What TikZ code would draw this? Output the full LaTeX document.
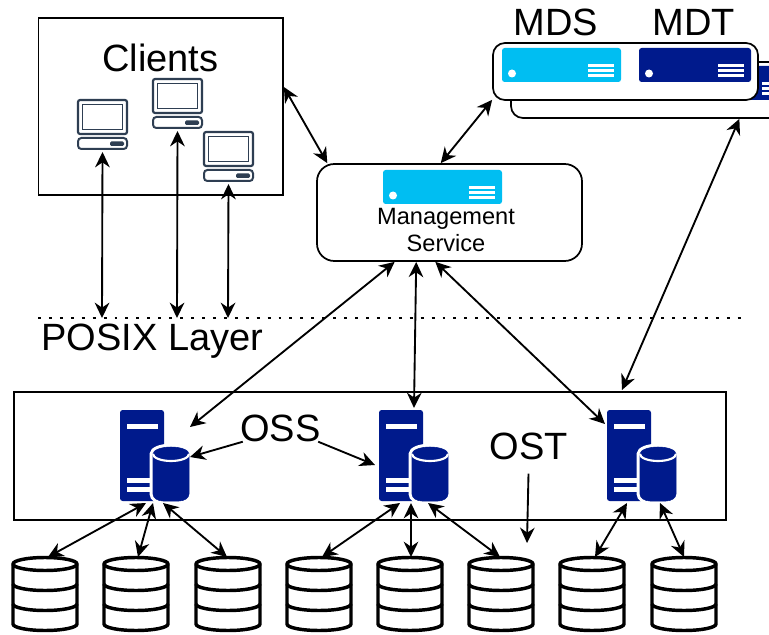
\documentclass[tikz,border=0pt]{standalone}
\usepackage{fontspec}
\setmainfont{Liberation Sans}
\usetikzlibrary{arrows.meta}
\def\px{0.75pt}
\definecolor{navy}{HTML}{001A8C}
\definecolor{sky}{HTML}{00BEF2}
\definecolor{slate}{HTML}{2E3E52}
% rack unit: x, y, width, colour
\newcommand{\blade}[4]{
  \fill[#4,rounded corners=2pt] (#1,#2) rectangle ++(#3,34);
  \fill[white] (#1+10,#2+25.5) circle (4);
  \foreach \ly in {17.5,22.5,27.5}
    \draw[white,line width=1.7pt] (#1+#3-33,#2+\ly) -- ++(26,0);
}
\tikzset{
  laptop/.pic={
    \draw[slate,line width=1.6pt,fill=white,rounded corners=1.5pt] (0,0) rectangle (49,34);
    \draw[slate,line width=1.4pt] (4.5,4.5) rectangle (44.5,29.5);
    \draw[slate,line width=1.5pt,fill=white,rounded corners=2.5pt] (0,38) rectangle (49,49);
    \fill[slate,rounded corners=1pt] (32,41.5) rectangle (46,46);
    \coordinate (-s) at (24.5,52);
  },
  tower/.pic={
    \fill[navy,rounded corners=2pt] (0,0) rectangle (44,91);
    \fill[white] (7,14) rectangle (38,19);
    \fill[white] (7,68) rectangle (32,73);
    \fill[white] (7,77) rectangle (32,82);
    \draw[navy,fill=navy,preaction={draw=white,line width=5pt}]
      (33,44) arc (180:360:18 and 7) -- (69,84) arc (0:90:10 and 7) -- (43,91) arc (90:180:10 and 7) -- cycle;
    \draw[white,line width=1.6pt] (33,44) arc (180:0:18 and 7);
    \coordinate (-b) at (0,93);
  },
  disk/.pic={
    \draw[line width=2.6pt,fill=white] (-32,7) arc (180:360:32 and 6.5) -- (32,67) arc (0:180:32 and 6.5) -- cycle;
    \draw[line width=2.6pt] (-32,7) arc (180:0:32 and 6.5);
    \draw[line width=2.6pt] (-32,27) arc (180:0:32 and 6.5);
    \draw[line width=2.6pt] (-32,47) arc (180:0:32 and 6.5);
    \coordinate (-t) at (0,0);
  }
}
\begin{document}
\begin{tikzpicture}[x=\px,y=-\px,>={Stealth[length=11.5pt,width=11pt]}]
  \tikzstyle{box}=[draw,line width=1.3pt,inner sep=0pt]
  \tikzstyle{rbox}=[box,fill=white,rounded corners=9pt]
  \tikzstyle{big}=[font=\fontsize{28.5pt}{30pt}\selectfont,inner sep=0pt]
  \tikzstyle{small}=[font=\fontsize{17.7pt}{20.25pt}\selectfont,align=center,inner sep=0pt]
  \tikzstyle{link}=[<->,line width=1.4pt]
  \tikzstyle{pointer}=[->,line width=1.4pt]
  \clip (0,0) rectangle (769,635);
  \fill[white] (0,0) rectangle (769,635);

  % clients
  \node [box,minimum width=244.5*\px,minimum height=177*\px] (clients) at (160.75,106.5) {};
  \node [big] (clientstext) at (160.5,58) {Clients};
  \pic (pc1) at (78,100) {laptop};
  \pic (pc2) at (153,79) {laptop};
  \pic (pc3) at (204,132) {laptop};

  % metadata
  \node [big] (mds) at (556,22) {MDS};
  \node [big] (mdt) at (693.5,22) {MDT};
  \node [rbox,minimum width=279*\px,minimum height=56*\px] (mdsback) at (650.5,90) {};
  \blade{735}{66}{60}{navy}
  \node [rbox,minimum width=265*\px,minimum height=57*\px] (mdsfront) at (625.5,71.5) {};
  \blade{502}{48}{119}{sky}
  \blade{639}{48}{112}{navy}

  % management
  \node [rbox,rounded corners=13pt,minimum width=265*\px,minimum height=97*\px] (mgmt) at (449.5,212.5) {};
  \blade{383}{170}{119}{sky}
  \node [small] (mgmttext) at (446,229.5) {Management\\Service};

  % posix
  \coordinate (dots1) at (38,318);
  \coordinate (dots2) at (745,318);
  \draw[line width=2.2pt,dash pattern=on 2.2pt off 6pt] (dots1) -- (dots2);
  \node [big] (posix) at (152.5,341) {POSIX Layer};
  \coordinate (p1) at (102,318);
  \coordinate (p2) at (177,318);
  \coordinate (p3) at (228,318);

  % object storage
  \node [box,minimum width=712*\px,minimum height=128*\px] (ossbox) at (370,456) {};
  \pic (s1) at (120,410) {tower};
  \pic (s2) at (379,410) {tower};
  \pic (s3) at (607,410) {tower};
  \node [big] (oss) at (280.5,428) {OSS};
  \node [big] (ost) at (528.5,446) {OST};
  \foreach \n/\dx in {1/45,2/136,3/228,4/319,5/410,6/501,7/592,8/684}
    \pic (d\n) at (\dx,557) {disk};

  \coordinate (t1) at (190,427);
  \coordinate (t2) at (414,408);
  \coordinate (t3) at (605,424);
  \coordinate (t4) at (622,390);
  \coordinate (o1) at (190,457);
  \coordinate (o2) at (375,465);
  \coordinate (o3) at (527,543);

  \draw[link] (pc1-s) -- (p1);
  \draw[link] (pc2-s) -- (p2);
  \draw[link] (pc3-s) -- (p3);
  \draw[link] (clients.9) -- (mgmt.158);
  \draw[link] (mdsfront.192) -- (mgmt.100);
  \draw[link] (mdsback.342) -- (t4);
  \draw[link] (mgmt.222) -- (t1);
  \draw[link] (mgmt.236) -- (t2);
  \draw[link] (mgmt.254) -- (t3);
  \draw[pointer] (oss.200) -- (o1);
  \draw[pointer] (oss.-20) -- (o2);
  \draw[pointer] (ost.south) ++(0,14) -- (o3);
  \foreach \a/\ax/\b/\bx in {s1/26/d1/3,s1/33/d2/2,s1/43/d3/-1,s2/21/d4/3,s2/32/d5/1,s2/49/d6/-1,s3/20/d7/3,s3/53/d8/0}
    \draw[link] ([xshift=\ax*\px]\a-b) -- ([xshift=\bx*\px]\b-t);
\end{tikzpicture}
\end{document}
